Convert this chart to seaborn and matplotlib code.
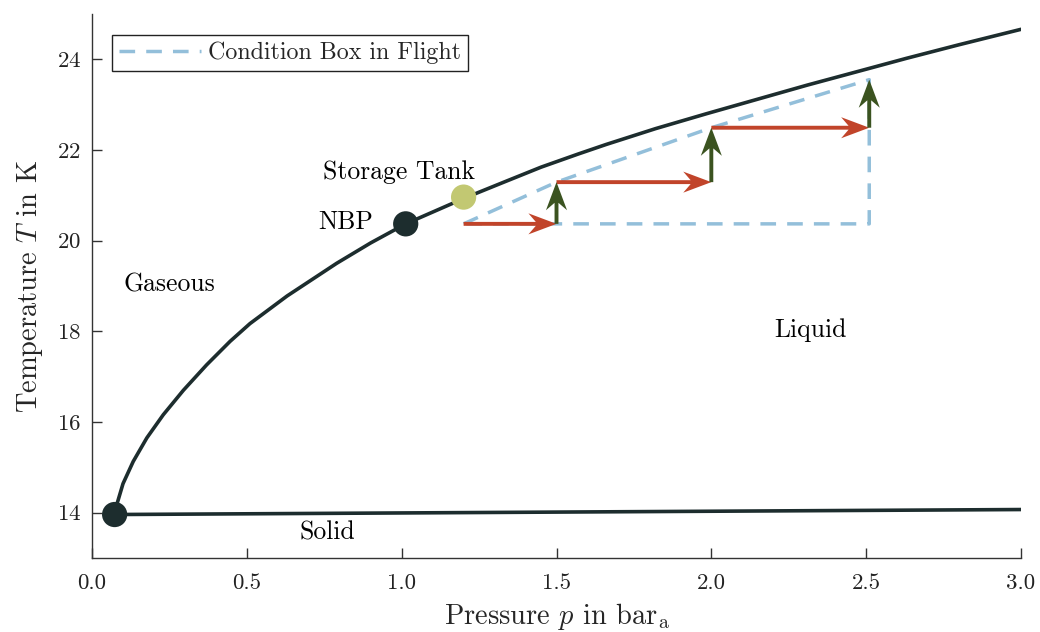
import numpy as np
import pandas as pd
import matplotlib
matplotlib.use("Agg")
import matplotlib.pyplot as plt
import seaborn as sns

# --- Data ---
# saturation (vapour pressure) curve
sat_p = [0.073, 0.08, 0.10, 0.133, 0.177, 0.23, 0.295, 0.37, 0.446, 0.51,
         0.63, 0.79, 0.90, 1.013, 1.167, 1.2, 1.33, 1.45, 1.57, 1.66,
         1.82, 1.985, 2.15, 2.31, 2.5, 2.63, 2.8, 3.0]
sat_T = [13.96, 14.18, 14.64, 15.13, 15.65, 16.16, 16.70, 17.26, 17.78, 18.17,
         18.78, 19.50, 19.95, 20.37, 20.83, 20.93, 21.29, 21.62, 21.91, 22.12,
         22.47, 22.80, 23.12, 23.43, 23.78, 24.02, 24.32, 24.66]

# melting curve
melt_p = [0.073, 3.0]
melt_T = [13.96, 14.07]

# special points
pts_p = [0.073, 1.013]
pts_T = [13.96, 20.37]
tank_p = [1.2]
tank_T = [20.96]

# flight steps (corners of the staircase)
step_p = [1.2, 1.5, 2.0, 2.51]
step_T = [20.37, 21.29, 22.49, 23.55]

# region labels
labels = ["Gaseous", "Liquid", "Solid", "NBP", "Storage Tank"]
label_p = [0.25, 2.32, 0.76, 0.82, 0.99]
label_T = [19.02, 18.03, 13.56, 20.4, 21.52]

x_ticks = [0.0, 0.5, 1.0, 1.5, 2.0, 2.5, 3.0]
y_ticks = [14, 16, 18, 20, 22, 24]

# --- Style ---
sns.set_theme(style="ticks")
plt.rcParams["font.family"] = "serif"
plt.rcParams["font.serif"] = ["cmr10", "DejaVu Serif"]
plt.rcParams["mathtext.fontset"] = "cm"
plt.rcParams["axes.unicode_minus"] = False
plt.rcParams["axes.formatter.use_mathtext"] = True

c_line = "#1d2d2e"
c_box = "#93bfda"
c_red = "#c1442a"
c_green = "#3b5320"
c_tank = "#c2c872"

fig = plt.figure(figsize=(10.4, 6.32), dpi=100)
ax = fig.add_axes([0.0885, 0.117, 0.8932, 0.861])

sat = pd.DataFrame({"p": sat_p, "T": sat_T})
melt = pd.DataFrame({"p": melt_p, "T": melt_T})
sns.lineplot(data=sat, x="p", y="T", sort=False, color=c_line, lw=2.6, ax=ax, zorder=3)
sns.lineplot(data=melt, x="p", y="T", sort=False, color=c_line, lw=2.6, ax=ax, zorder=3)

# condition box: diagonal through step corners, then down and back
box_p = step_p + [step_p[-1], step_p[0]]
box_T = step_T + [step_T[0], step_T[0]]
ax.plot(box_p, box_T, color=c_box, lw=2.5, dashes=(4.5, 3.2), zorder=2,
        label="Condition Box in Flight")

# staircase arrows
sp = np.array(step_p)
sT = np.array(step_T)
arrow_kw = dict(angles="xy", scale_units="xy", scale=1, width=0.0042,
                headwidth=5.4, headlength=7.2, headaxislength=5.3, zorder=4)
ax.quiver(sp[:-1], sT[:-1], np.diff(sp), np.zeros(len(sp) - 1), color=c_red, **arrow_kw)
ax.quiver(sp[1:], sT[:-1], np.zeros(len(sp) - 1), np.diff(sT), color=c_green, **arrow_kw)

sns.scatterplot(x=pts_p, y=pts_T, s=330, color=c_line, edgecolor="none", ax=ax, zorder=5)
sns.scatterplot(x=tank_p, y=tank_T, s=330, color=c_tank, edgecolor="none", ax=ax, zorder=5)

for txt, px, pt in zip(labels, label_p, label_T):
    ax.text(px, pt, txt, ha="center", va="center", fontsize=18.5, color="black")

ax.set_xlim(0, 3)
ax.set_ylim(13, 25)
ax.set_xticks(x_ticks)
ax.set_yticks(y_ticks)
ax.set_xticklabels([f"{v:.1f}" for v in x_ticks])
ax.tick_params(direction="in", length=7, width=1, colors="#333333",
               labelsize=16.5, labelcolor="#222222")
ax.tick_params(axis="x", pad=11)
ax.tick_params(axis="y", pad=8)
for s in ["top", "right"]:
    ax.spines[s].set_visible(False)
for s in ["left", "bottom"]:
    ax.spines[s].set_color("#333333")
    ax.spines[s].set_linewidth(1.0)

ax.set_xlabel(r"Pressure $p$ in bar$_\mathrm{a}$", fontsize=20.5, labelpad=6)
ax.set_ylabel(r"Temperature $T$ in K", fontsize=20.5, labelpad=8)

leg = ax.legend(loc="upper left", bbox_to_anchor=(0.0215, 0.962), borderaxespad=0,
                fontsize=17.3, fancybox=False, framealpha=1, edgecolor="#222222",
                handlelength=3.4, handletextpad=0.3, borderpad=0.3)
leg.get_frame().set_linewidth(1.0)

fig.savefig("out.png", dpi=100)
